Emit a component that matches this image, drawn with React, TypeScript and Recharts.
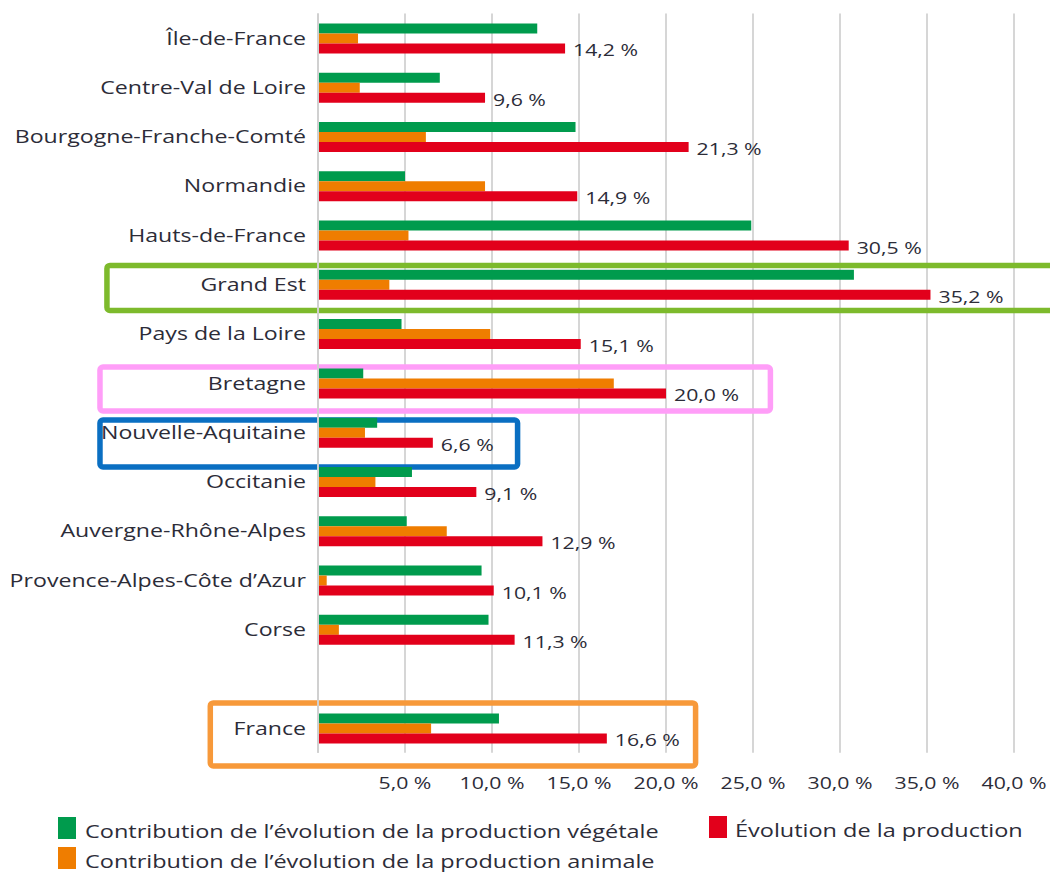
import React from 'react';
import { BarChart, Bar, XAxis, YAxis, CartesianGrid, LabelList, Legend, ReferenceArea } from 'recharts';

const categories = [
  'Île-de-France',
  'Centre-Val de Loire',
  'Bourgogne-Franche-Comté',
  'Normandie',
  'Hauts-de-France',
  'Grand Est',
  'Pays de la Loire',
  'Bretagne',
  'Nouvelle-Aquitaine',
  'Occitanie',
  'Auvergne-Rhône-Alpes',
  'Provence-Alpes-Côte d’Azur',
  'Corse',
  '',
  'France',
];
const vegetale = [12.6, 7.0, 14.8, 5.0, 24.9, 30.8, 4.8, 2.6, 3.4, 5.4, 5.1, 9.4, 9.8, null, 10.4];
const animale = [2.3, 2.4, 6.2, 9.6, 5.2, 4.1, 9.9, 17.0, 2.7, 3.3, 7.4, 0.5, 1.2, null, 6.5];
const production = [14.2, 9.6, 21.3, 14.9, 30.5, 35.2, 15.1, 20.0, 6.6, 9.1, 12.9, 10.1, 11.3, null, 16.6];
const xTicks = [5, 10, 15, 20, 25, 30, 35, 40];

const seriesNames = {
  veg: 'Contribution de l’évolution de la production végétale',
  ani: 'Contribution de l’évolution de la production animale',
  prod: 'Évolution de la production',
};

const data = categories.map((name, i) => ({
  name,
  veg: vegetale[i],
  ani: animale[i],
  prod: production[i],
}));

const highlights = [
  { cat: 'Grand Est', x1: -12.13, x2: 46, color: '#7dba2c', top: 5.6, h: 45 },
  { cat: 'Bretagne', x1: -12.53, x2: 26.0, color: '#ff9ef8', top: 8.6, h: 44 },
  { cat: 'Nouvelle-Aquitaine', x1: -12.53, x2: 11.47, color: '#0a6fc2', top: 12.3, h: 47 },
  { cat: 'France', x1: -6.19, x2: 21.7, color: '#f7993a', top: -0.5, h: 63 },
];

const SX = 1.25;
const FONT = '"Open Sans", "Noto Sans", sans-serif';
const TEXT = '#2c2c38';
const WEIGHT = 500;

const fmt = (v: number) => v.toFixed(1).replace('.', ',') + ' %';

const CatTick = (props: any) => {
  const { x, y, payload } = props;
  if (!payload || !payload.value) return null;
  return (
    <g transform={`translate(${x},${y}) scale(${SX},1)`}>
      <text x={0} y={0} dy="0.35em" textAnchor="end" fontFamily={FONT} fontSize={18.5} fontWeight={WEIGHT} fill={TEXT}>
        {payload.value}
      </text>
    </g>
  );
};

const ValTick = (props: any) => {
  const { x, y, payload } = props;
  return (
    <g transform={`translate(${x},${y + 30}) scale(${SX},1)`}>
      <text x={0} y={0} dy="0.35em" textAnchor="middle" fontFamily={FONT} fontSize={17} fontWeight={WEIGHT} fill={TEXT}>
        {fmt(payload.value)}
      </text>
    </g>
  );
};

const ValueLabel = (props: any) => {
  const { x, y, width, height, value } = props;
  if (value === null || value === undefined) return null;
  return (
    <g transform={`translate(${x + width + 8},${y + height / 2 + 2}) scale(${SX},1)`}>
      <text x={0} y={0} dy="0.35em" textAnchor="start" fontFamily={FONT} fontSize={17} fontWeight={WEIGHT} fill={TEXT}>
        {fmt(value)}
      </text>
    </g>
  );
};

const legendPos: Record<string, { left: number; top: number; gap: number }> = {
  veg: { left: 58, top: 17, gap: 9 },
  ani: { left: 58, top: 47, gap: 9 },
  prod: { left: 709, top: 16, gap: 8 },
};

const LegendContent = (props: any) => {
  const { payload } = props;
  return (
    <div style={{ position: 'relative', width: 1050, height: 74 }}>
      {(payload || []).map((entry: any, i: number) => {
        const pos = legendPos[entry.dataKey as string] || legendPos.veg;
        return (
          <div
            key={i}
            style={{
              position: 'absolute',
              left: pos.left,
              top: pos.top,
              height: 22,
              display: 'flex',
              alignItems: 'center',
              whiteSpace: 'nowrap',
            }}
          >
            <span style={{ display: 'inline-block', width: 18, height: 22, background: entry.color }} />
            <span
              style={{
                display: 'inline-block',
                marginLeft: pos.gap,
                marginTop: 6,
                fontFamily: FONT,
                fontSize: 18.5,
                fontWeight: WEIGHT,
                color: TEXT,
                transform: `scaleX(${SX * 1.015})`,
                transformOrigin: 'left center',
                lineHeight: '22px',
              }}
            >
              {entry.value}
            </span>
          </div>
        );
      })}
    </div>
  );
};

export default function App() {
  return (
    <div style={{ position: 'absolute', left: 0, top: 0, width: 1050, height: 874, background: '#fff', overflow: 'hidden' }}>
      <BarChart
        width={1050}
        height={874}
        data={data}
        layout="vertical"
        margin={{ top: 13.4, right: 36, bottom: 0, left: 0 }}
        barGap={0}
      >
        <CartesianGrid horizontal={false} vertical={true} stroke="#d6d6d6" strokeWidth={2} />
        <XAxis
          type="number"
          domain={[0, 40]}
          ticks={xTicks}
          axisLine={false}
          tickLine={false}
          tickSize={0}
          tickMargin={0}
          height={121.3}
          tick={<ValTick />}
          interval={0}
        />
        <YAxis
          type="category"
          dataKey="name"
          width={318}
          interval={0}
          tickLine={false}
          tickSize={0}
          tickMargin={12}
          axisLine={{ stroke: '#d0d0d0', strokeWidth: 2 }}
          tick={<CatTick />}
        />
        <Bar dataKey="veg" name={seriesNames.veg} fill="#009b4d" barSize={10} isAnimationActive={false} />
        <Bar dataKey="ani" name={seriesNames.ani} fill="#ef7d00" barSize={10} isAnimationActive={false} />
        <Bar dataKey="prod" name={seriesNames.prod} fill="#e2001b" barSize={10} isAnimationActive={false}>
          <LabelList dataKey="prod" content={<ValueLabel />} />
        </Bar>
        {highlights.map((hl) => (
          <ReferenceArea
            key={hl.cat}
            x1={hl.x1}
            x2={hl.x2}
            y1={hl.cat}
            y2={hl.cat}
            ifOverflow="visible"
            shape={(p: any) => (
              <rect
                x={p.x}
                y={p.y + hl.top}
                width={p.width}
                height={hl.h}
                rx={3}
                ry={3}
                fill="none"
                stroke={hl.color}
                strokeWidth={5.5}
              />
            )}
          />
        ))}
        <Legend
          content={<LegendContent />}
          layout="horizontal"
          verticalAlign="middle"
          align="center"
          wrapperStyle={{ position: 'absolute', left: 0, top: 800, width: 1050, height: 74 }}
        />
      </BarChart>
    </div>
  );
}
